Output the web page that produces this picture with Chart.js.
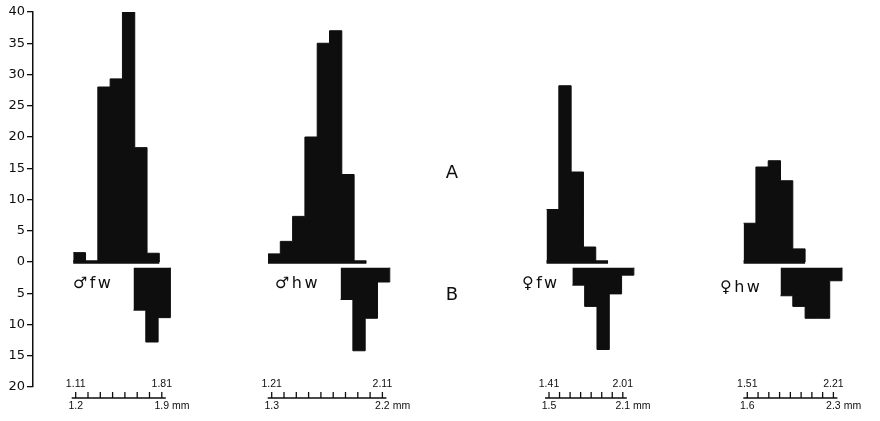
<!DOCTYPE html>
<html>
<head>
<meta charset="utf-8">
<script src="https://cdn.jsdelivr.net/npm/chart.js@4.4.1/dist/chart.umd.min.js"></script>
<style>
  html, body { margin: 0; padding: 0; background: #fff; }
  #wrap { width: 880px; height: 421px; }
</style>
</head>
<body>
<div id="wrap"><canvas id="hist"></canvas></div>
<script>
// ── values ──────────────────────────────────────────────────
const panelLabels = ['♂fw', '♂hw', '♀fw', '♀hw'];
const binWidth = 0.1; // mm per class

// A histograms (upward): left edge of first class (mm) and counts
const aStart = [1.09, 1.18, 1.39, 1.48];
const aCounts = [
    [1.5, 0, 28, 29.3, 40, 18.3, 1.4],
    [1.3, 3.3, 7.3, 20, 35, 37, 14, 0],
    [8.4, 28.2, 14.4, 2.4, 0],
    [6.2, 15.2, 16.2, 13, 2.1]
];

// B histograms (downward)
const bStart = [1.58, 1.77, 1.60, 1.78];
const bCounts = [
    [7.7, 12.8, 8.9],
    [6.0, 14.2, 9.0, 3.2],
    [3.7, 7.1, 14, 5.1, 2.1],
    [5.4, 7.1, 9.0, 9.0, 3.0]
];

// mm scale bars under each panel
const scaleUpper = [['1.11', '1.81'], ['1.21', '2.11'], ['1.41', '2.01'], ['1.51', '2.21']];
const scaleLower = [['1.2', '1.9'], ['1.3', '2.2'], ['1.5', '2.1'], ['1.6', '2.3']];
const scaleTickCount = [8, 10, 8, 9];

// ── layout ──────────────────────────────────────────────────
const PX_PER_MM = 123;
const AREA_LEFT = 33, AREA_RIGHT = 874;
const panelAnchorPx = [75.7, 271.7, 549, 747.3];   // pixel of first scale tick
const labelPos = [[73, -4.1], [275, -4.1], [522, -4.2], [720, -4.8]]; // px, y value
const B_TOP = -0.9;
const INK = '#0e0e0e';

function histPoints(start, counts, sign, base) {
    const pts = counts.map((c, i) => ({ x: start + i * binWidth, y: sign * c }));
    pts.push({ x: start + counts.length * binWidth, y: base });
    return pts;
}

const datasets = [];
const scales = {};
panelLabels.forEach((_, i) => {
    const id = 'x' + i;
    const min = parseFloat(scaleUpper[i][0]) - (panelAnchorPx[i] - AREA_LEFT) / PX_PER_MM;
    scales[id] = { type: 'linear', display: false, min, max: min + (AREA_RIGHT - AREA_LEFT) / PX_PER_MM };
    const common = { xAxisID: id, yAxisID: 'y', stepped: true, pointRadius: 0, borderColor: INK, backgroundColor: INK, borderWidth: 1 };
    const aEnd = aStart[i] + aCounts[i].length * binWidth;
    datasets.push({ ...common, data: [{ x: aStart[i], y: 0 }, { x: aEnd, y: 0 }], stepped: false, fill: false, borderWidth: 3.5 });
    datasets.push({ ...common, data: histPoints(aStart[i], aCounts[i], 1, 0), fill: 'origin' });
    datasets.push({ ...common, data: histPoints(bStart[i], bCounts[i], -1, B_TOP), fill: { value: B_TOP } });
});

scales.y = {
    min: -20, max: 40,
    afterFit: s => { s.width = AREA_LEFT; },
    ticks: { stepSize: 5, callback: v => Math.abs(v), color: INK, padding: 2, font: { family: "'DejaVu Sans', sans-serif", size: 13 } },
    grid: { drawOnChartArea: false, color: INK, lineWidth: 1.3, tickLength: 6 },
    border: { display: true, color: INK, width: 1.5 }
};

const annotations = {
    id: 'annotations',
    afterDraw(chart) {
        const { ctx, scales: s, chartArea } = chart;
        ctx.save();
        ctx.fillStyle = INK;
        ctx.strokeStyle = INK;

        // panel names
        ctx.font = "16px 'DejaVu Sans', sans-serif";
        ctx.letterSpacing = '2.5px';
        ctx.textAlign = 'left';
        ctx.textBaseline = 'alphabetic';
        panelLabels.forEach((t, i) => ctx.fillText(t, labelPos[i][0], s.y.getPixelForValue(labelPos[i][1])));
        ctx.letterSpacing = '0px';

        // A / B
        ctx.font = "18px 'DejaVu Sans', sans-serif";
        ctx.textAlign = 'center';
        ctx.textBaseline = 'middle';
        ctx.fillText('A', 452, s.y.getPixelForValue(14.2));
        ctx.fillText('B', 452, s.y.getPixelForValue(-5.3));

        // mm scale bars
        const lineY = chartArea.bottom + 11;
        ctx.font = "10.5px 'Liberation Sans', Arial, sans-serif";
        ctx.lineWidth = 1.3;
        panelLabels.forEach((_, i) => {
            const ax = s['x' + i];
            const lo = parseFloat(scaleUpper[i][0]), hi = parseFloat(scaleUpper[i][1]);
            const n = scaleTickCount[i];
            const x0 = ax.getPixelForValue(lo), x1 = ax.getPixelForValue(hi);
            ctx.beginPath();
            ctx.moveTo(x0 - 4, lineY); ctx.lineTo(x1 + 4, lineY);
            for (let k = 0; k < n; k++) {
                const x = ax.getPixelForValue(lo + k * (hi - lo) / (n - 1));
                ctx.moveTo(x, lineY); ctx.lineTo(x, lineY - 6);
            }
            ctx.stroke();
            ctx.textAlign = 'center';
            ctx.textBaseline = 'alphabetic';
            ctx.fillText(scaleUpper[i][0], x0, lineY - 11);
            ctx.fillText(scaleUpper[i][1], x1, lineY - 11);
            ctx.fillText(scaleLower[i][0], x0, lineY + 11);
            ctx.fillText(scaleLower[i][1], x1, lineY + 11);
            ctx.textAlign = 'left';
            ctx.fillText('mm', x1 + ctx.measureText(scaleLower[i][1]).width / 2 + 3, lineY + 11);
        });
        ctx.restore();
    }
};

new Chart(document.getElementById('hist'), {
    type: 'line',
    data: { datasets },
    options: {
        responsive: true, maintainAspectRatio: false, animation: false, events: [],
        layout: { padding: { left: 0, right: 880 - AREA_RIGHT, top: 12, bottom: 34 } },
        plugins: { legend: { display: false }, tooltip: { enabled: false } },
        elements: { line: { tension: 0 } },
        scales
    },
    plugins: [annotations]
});
</script>
</body>
</html>
